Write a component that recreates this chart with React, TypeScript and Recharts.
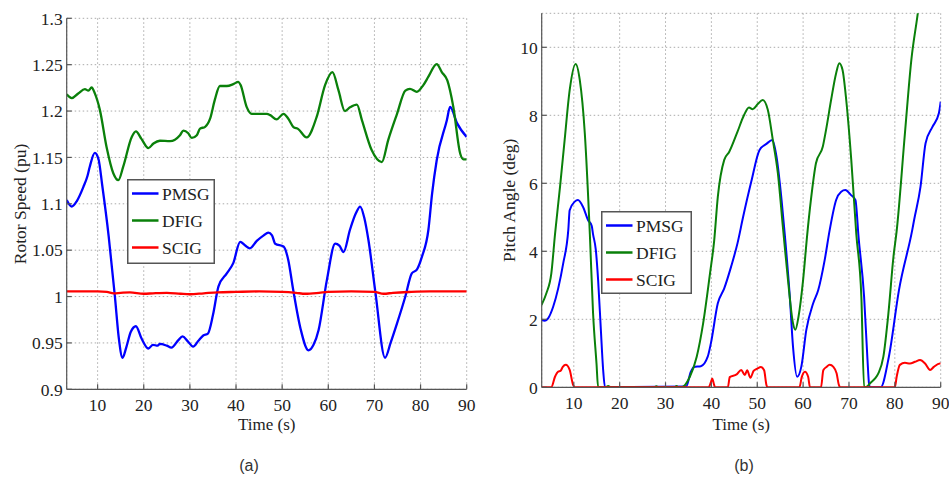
import React from 'react';
import { LineChart, Line, XAxis, YAxis, CartesianGrid, Legend } from 'recharts';

// ---------- Panel (a): Rotor speed (pu) ----------
const speedPmsgT = [3.3, 4.4, 5.5, 6.9, 7.8, 8.3, 9.4, 10.2, 11, 12.4, 13.75, 14.6, 15.4, 16.2, 17.2, 18.3, 19.5, 21, 22, 23, 23.5, 25, 26, 27.5, 28.4, 29.5, 30.7, 31.8, 32.9, 33.9, 35, 36.2, 38, 39.4, 40.9, 42, 43, 44.5, 46, 47, 47.8, 48.5, 50.3, 51.3, 52.4, 54, 55.7, 56.8, 57.9, 59.7, 61.5, 62.4, 63.3, 64.7, 66, 66.9, 67.8, 68.7, 70.2, 72.3, 73.5, 74.9, 76.7, 78.1, 79.2, 80.3, 81.7, 82.5, 83.5, 85.7, 86.4, 87.9, 90];
const speedPmsgV = [1.104, 1.097, 1.103, 1.118, 1.13, 1.14, 1.155, 1.148, 1.12, 1.065, 1.0, 0.955, 0.934, 0.945, 0.962, 0.968, 0.955, 0.944, 0.948, 0.947, 0.949, 0.947, 0.945, 0.953, 0.957, 0.952, 0.946, 0.952, 0.958, 0.96, 0.98, 1.011, 1.025, 1.036, 1.059, 1.055, 1.052, 1.06, 1.066, 1.069, 1.066, 1.057, 1.054, 1.04, 1.007, 0.965, 0.942, 0.948, 0.964, 1.018, 1.057, 1.055, 1.048, 1.072, 1.09, 1.097, 1.085, 1.061, 1.005, 0.934, 0.95, 0.971, 1.0, 1.025, 1.029, 1.043, 1.072, 1.111, 1.147, 1.19, 1.2045, 1.187, 1.172];

const speedDfigT = [3.3, 4.4, 5.8, 7.25, 8.0, 8.7, 9.4, 10.5, 11.95, 13.4, 14.5, 15.55, 17.4, 18.3, 19.5, 21, 22.1, 23.5, 25.7, 27.85, 28.6, 29.65, 30.4, 31.5, 32.2, 33.3, 34.4, 35.4, 36.5, 38, 39.4, 40.5, 41, 42.3, 43.4, 44.5, 46.7, 47.4, 48.8, 50.3, 51.3, 52.4, 53.5, 55.3, 57.5, 59.3, 60.9, 62.2, 63.6, 64.7, 66.2, 67.3, 69.4, 71.6, 73.0, 74.9, 76.7, 77.7, 79.2, 80.6, 81.7, 83.5, 84.6, 85.8, 87.1, 88.6, 89.3, 90];
const speedDfigV = [1.218, 1.214, 1.219, 1.2236, 1.222, 1.2254, 1.219, 1.201, 1.161, 1.133, 1.1255, 1.14, 1.172, 1.178, 1.17, 1.16, 1.165, 1.168, 1.1675, 1.174, 1.179, 1.176, 1.171, 1.174, 1.181, 1.183, 1.192, 1.212, 1.227, 1.227, 1.229, 1.2315, 1.228, 1.2045, 1.197, 1.197, 1.197, 1.1956, 1.191, 1.197, 1.192, 1.183, 1.1805, 1.1716, 1.194, 1.228, 1.242, 1.2225, 1.2, 1.204, 1.207, 1.19, 1.158, 1.145, 1.169, 1.197, 1.222, 1.224, 1.2207, 1.228, 1.237, 1.2505, 1.242, 1.233, 1.2045, 1.154, 1.148, 1.148];

const speedScigT = [3.3, 10, 12, 13.5, 15, 17, 20, 22, 25, 28, 30, 33, 36, 40, 45, 50, 53, 55, 58, 60, 65, 70, 72, 74, 78, 82, 90];
const speedScigV = [1.0055, 1.0055, 1.005, 1.0035, 1.004, 1.0045, 1.003, 1.0035, 1.004, 1.003, 1.0025, 1.0035, 1.0045, 1.005, 1.0055, 1.005, 1.004, 1.003, 1.004, 1.005, 1.0055, 1.005, 1.003, 1.004, 1.005, 1.0055, 1.0055];

// ---------- Panel (b): Pitch angle (deg) ----------
const pitchPmsgT = [2.95, 3.7, 4.4, 5.5, 6.6, 7.7, 8.8, 9.1, 10.2, 10.9, 12.0, 13.1, 13.9, 14.2, 14.8, 15.3, 15.9, 16.4, 16.8, 34.5, 35.5, 36.2, 37.7, 39.2, 39.9, 41.4, 42.8, 44.3, 45.7, 46.9, 48.7, 50.5, 52.0, 53.3, 54.2, 55.3, 56.0, 57.1, 57.8, 58.7, 59.6, 60.7, 62.2, 63.3, 64.7, 65.8, 67.2, 68.3, 69.2, 70.4, 71.4, 72.1, 73.3, 74.0, 74.4, 74.6, 76.9, 78.7, 80.9, 83.8, 84.2, 85.6, 86.7, 88.2, 89.6, 90];
const pitchPmsgV = [1.98, 1.96, 2.03, 2.37, 2.91, 3.65, 4.63, 5.21, 5.46, 5.51, 5.31, 4.92, 4.75, 4.5, 4.04, 3.16, 1.69, 0.51, 0, 0.02, 0.45, 0.6, 0.62, 0.9, 1.3, 2.47, 2.91, 3.55, 4.24, 5.0, 6.05, 6.98, 7.16, 7.27, 6.78, 5.51, 4.5, 2.66, 1.19, 0.31, 0.6, 1.69, 2.47, 2.86, 3.74, 4.63, 5.51, 5.75, 5.8, 5.66, 5.51, 4.4, 2.66, 0.9, 0.07, 0, 0, 0.9, 2.86, 4.63, 4.92, 5.9, 7.18, 7.66, 8.06, 8.4];

const pitchDfigT = [2.95, 4.0, 5.1, 5.9, 7.0, 8.0, 9.1, 10.4, 11.3, 12.4, 13.5, 14.2, 14.95, 15.3, 17.0, 17.5, 18.0, 27.5, 28.0, 28.5, 32.0, 32.4, 32.8, 33.5, 35.3, 36.8, 38.2, 39.7, 40.6, 41.4, 42.8, 43.9, 45.7, 47.1, 48.2, 49.0, 50.1, 51.2, 52.3, 53.4, 54.5, 55.6, 56.7, 57.8, 58.3, 59.0, 60.0, 60.9, 61.7, 62.8, 64.3, 65.0, 66.1, 67.2, 67.9, 68.6, 69.4, 70.5, 71.6, 72.7, 73.3, 73.9, 74.6, 75.7, 76.4, 77.5, 78.6, 79.7, 80.4, 82.2, 83.6, 85.0, 86.0, 90];
const pitchDfigV = [2.42, 2.76, 3.35, 4.5, 5.9, 7.27, 8.74, 9.51, 9.04, 7.47, 4.5, 2.18, 0.7, 0, 0, 0.04, 0, 0, 0.03, 0, 0, 0.04, 0, 0, 0.31, 0.9, 1.88, 3.35, 4.3, 5.6, 6.69, 6.93, 7.52, 8.0, 8.23, 8.18, 8.33, 8.45, 8.16, 7.27, 6.29, 4.7, 3.16, 1.88, 1.69, 2.08, 3.16, 4.5, 5.51, 6.59, 7.08, 7.57, 8.45, 9.24, 9.53, 9.33, 8.45, 6.69, 4.5, 2.66, 0, 0.02, 0.12, 0.26, 0.41, 0.9, 2.18, 3.84, 4.6, 7.47, 9.63, 11.0, 12.1, 16.6];

const pitchScigT = [2.95, 5.1, 5.9, 6.6, 7.1, 7.6, 8.25, 9.1, 9.85, 10.2, 39.4, 39.9, 40.2, 40.5, 40.8, 43.6, 44.0, 45.5, 46.5, 47.3, 47.8, 48.5, 49.2, 50.0, 50.8, 51.5, 52.0, 52.3, 59.2, 59.7, 60.4, 61.1, 61.5, 63.9, 64.4, 65.1, 65.8, 66.6, 67.3, 67.8, 68.1, 80.0, 80.4, 81.1, 82.2, 83.3, 84.4, 85.5, 86.6, 87.7, 88.5, 89.8, 90];
const pitchScigV = [0, 0, 0.31, 0.46, 0.48, 0.6, 0.66, 0.51, 0.07, 0, 0, 0.15, 0.26, 0.12, 0, 0, 0.3, 0.38, 0.51, 0.36, 0.5, 0.28, 0.48, 0.55, 0.6, 0.5, 0.07, 0, 0, 0.3, 0.46, 0.31, 0, 0, 0.5, 0.6, 0.66, 0.6, 0.41, 0.07, 0, 0, 0.31, 0.66, 0.72, 0.7, 0.75, 0.8, 0.7, 0.51, 0.6, 0.7, 0.7];

const xTicks = [10, 20, 30, 40, 50, 60, 70, 80, 90];
const speedTicks = [0.9, 0.95, 1, 1.05, 1.1, 1.15, 1.2, 1.25, 1.3];
const pitchTicks = [0, 2, 4, 6, 8, 10];

const seriesNames = ['PMSG', 'DFIG', 'SCIG'];
const seriesColors = ['#0000ff', '#0a800a', '#ff0000'];

const zip = (t: number[], v: number[]) => t.map((x, i) => ({ t: x, v: v[i] }));

const speedSeries = [zip(speedPmsgT, speedPmsgV), zip(speedDfigT, speedDfigV), zip(speedScigT, speedScigV)];
const pitchSeries = [zip(pitchPmsgT, pitchPmsgV), zip(pitchDfigT, pitchDfigV), zip(pitchScigT, pitchScigV)];

const FONT = '"Liberation Serif", "Times New Roman", serif';
const AXIS_COLOR = '#555';
const tickStyle = { fontFamily: FONT, fontSize: 17.5, fill: '#222' };

function LegendBox({ w, h, rowGap, firstRow }: { w: number; h: number; rowGap: number; firstRow: number }) {
  return (
    <svg width={w} height={h} style={{ display: 'block', overflow: 'visible' }}>
      <rect x={0.75} y={0.75} width={w - 1.5} height={h - 1.5} fill="#fff" stroke="#555" strokeWidth={1.5} />
      {seriesNames.map((n, i) => (
        <g key={n}>
          <line x1={5} x2={31.5} y1={firstRow + i * rowGap} y2={firstRow + i * rowGap} stroke={seriesColors[i]} strokeWidth={2.5} />
          <text x={35} y={firstRow + i * rowGap} dominantBaseline="central" fontFamily={FONT} fontSize={17.5} fill="#222">{n}</text>
        </g>
      ))}
    </svg>
  );
}

function Panel(props: {
  width: number; height: number; margin: any; yWidth: number; xDomain: number[]; yDomain: number[];
  yTicks: number[]; series: { t: number; v: number }[][]; legend: { left: number; top: number; w: number; h: number; rowGap: number; firstRow: number };
  strokeWidth: number;
}) {
  const { width, height, margin, yWidth, xDomain, yDomain, yTicks, series, legend, strokeWidth } = props;
  return (
    <LineChart width={width} height={height} margin={margin}>
      <CartesianGrid stroke="#aaa" strokeDasharray="1.5 2.5" strokeWidth={1} />
      <XAxis type="number" dataKey="t" domain={xDomain} ticks={xTicks} allowDataOverflow
        height={30} tickSize={-5} tickMargin={14} tick={tickStyle} stroke={AXIS_COLOR} strokeWidth={1.2} interval={0} />
      <XAxis xAxisId="top" orientation="top" type="number" dataKey="t" domain={xDomain} ticks={xTicks} allowDataOverflow
        height={0} tickSize={-5} tick={false} stroke={AXIS_COLOR} strokeWidth={1.2} interval={0} />
      <YAxis type="number" domain={yDomain} ticks={yTicks} allowDataOverflow width={yWidth}
        tickSize={-5} tickMargin={9} tick={tickStyle} stroke={AXIS_COLOR} strokeWidth={1.2} interval={0} />
      <YAxis yAxisId="right" orientation="right" type="number" domain={yDomain} ticks={yTicks} allowDataOverflow width={0}
        tickSize={-5} tick={false} stroke={AXIS_COLOR} strokeWidth={1.2} interval={0} />
      {series.map((d, i) => (
        <Line key={seriesNames[i]} data={d} dataKey="v" name={seriesNames[i]} type="monotone"
          stroke={seriesColors[i]} strokeWidth={strokeWidth} dot={false} activeDot={false} isAnimationActive={false} />
      ))}
      <Legend layout="vertical" align="center" verticalAlign="middle"
        wrapperStyle={{ left: legend.left, top: legend.top, width: legend.w, height: legend.h }}
        content={() => <LegendBox w={legend.w} h={legend.h} rowGap={legend.rowGap} firstRow={legend.firstRow} />} />
    </LineChart>
  );
}

export default function App() {
  return (
    <div style={{ position: 'absolute', left: 0, top: 0, width: 949, height: 477, background: '#fff', overflow: 'hidden' }}>
      <div style={{ position: 'absolute', left: 0, top: 0 }}>
        <Panel width={480} height={477}
          margin={{ top: 18.3, right: 13.3, left: 0, bottom: 57.7 }} yWidth={66.7}
          xDomain={[3.3, 90]} yDomain={[0.9, 1.3]} yTicks={speedTicks} series={speedSeries} strokeWidth={2.3}
          legend={{ left: 126.5, top: 178.5, w: 88, h: 85, rowGap: 27, firstRow: 14.5 }} />
      </div>
      <div style={{ position: 'absolute', left: 480, top: 0 }}>
        <Panel width={469} height={477}
          margin={{ top: 13.3, right: 8.3, left: 0, bottom: 59.7 }} yWidth={61.7}
          xDomain={[3, 90]} yDomain={[0, 11]} yTicks={pitchTicks} series={pitchSeries} strokeWidth={2}
          legend={{ left: 120.7, top: 210.5, w: 91, h: 83, rowGap: 27, firstRow: 14.5 }} />
      </div>
      <svg width={949} height={477} style={{ position: 'absolute', left: 0, top: 0, pointerEvents: 'none' }}>
        <text x={20} y={204} transform="rotate(-90 20 204)" textAnchor="middle" dominantBaseline="central"
          fontFamily={FONT} fontSize={17.5} fill="#222">Rotor Speed (pu)</text>
        <text x={266.7} y={424.5} textAnchor="middle" dominantBaseline="central"
          fontFamily={FONT} fontSize={17} fill="#222">Time (s)</text>
        <text x={509} y={200.3} transform="rotate(-90 509 200.3)" textAnchor="middle" dominantBaseline="central"
          fontFamily={FONT} fontSize={17.5} fill="#222">Pitch Angle (deg)</text>
        <text x={741.2} y={424.5} textAnchor="middle" dominantBaseline="central"
          fontFamily={FONT} fontSize={17} fill="#222">Time (s)</text>
        <text x={249} y={465} textAnchor="middle" dominantBaseline="central"
          fontFamily='"Liberation Sans", Arial, sans-serif' fontSize={16} fill="#333">(a)</text>
        <text x={744} y={465} textAnchor="middle" dominantBaseline="central"
          fontFamily='"Liberation Sans", Arial, sans-serif' fontSize={16} fill="#333">(b)</text>
      </svg>
    </div>
  );
}
